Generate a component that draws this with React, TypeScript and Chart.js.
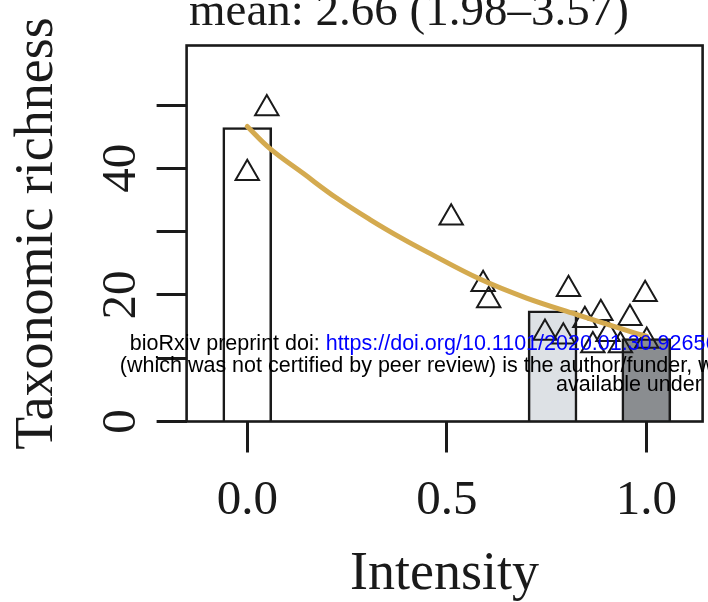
import React, { useEffect, useRef } from 'react';
import { Chart, registerables } from 'chart.js';

Chart.register(...registerables);

// ---- data ----
const titleText = 'mean: 2.66 (1.98–3.57)';
const xTitle = 'Intensity';
const yTitle = 'Taxonomic richness';

const barX = [0, 0.765, 1.0];
const barY = [46.45, 17.5, 13.1];
const barColors = ['#ffffff', '#dde1e5', '#8a8d90'];

const pointX = [0.049, 0.0, 0.511, 0.591, 0.605, 0.805, 0.997, 0.886, 0.846, 0.959, 0.746, 0.792, 0.904, 1.001, 0.866, 0.935];
const pointY = [49.45, 39.2, 32.2, 21.7, 19.1, 20.9, 20.1, 17.1, 16.0, 16.3, 14.0, 13.4, 13.8, 12.7, 12.0, 12.0];

const curveX = [0.0, 0.057, 0.14, 0.224, 0.3075, 0.391, 0.45, 0.583, 0.7, 0.826, 0.976, 1.0];
const curveY = [46.6, 43.1, 39.2, 35.3, 31.9, 28.8, 26.8, 22.5, 19.5, 16.9, 13.9, 13.5];

const xTickValues = [0, 0.5, 1];
const xTickLabels = ['0.0', '0.5', '1.0'];
const yTickValues = [0, 10, 20, 30, 40, 50];
const yLabelValues = [0, 20, 40];
const yLabelTexts = ['0', '20', '40'];

const wmLine1a = 'bioRxiv preprint doi: ';
const wmLine1b = 'https://doi.org/10.1101/2020.01.30.926560';
const wmLine1c = '; this version posted February 1, 2020. The copyright holder for this preprint';
const wmLine2 = '(which was not certified by peer review) is the author/funder, who has granted bioRxiv a license to display the preprint in perpetuity. It is made';
const wmLine3 = 'available under aCC-BY-NC-ND 4.0 International license.';

const SERIF = '"Liberation Serif", "Times New Roman", serif';
const SANS = '"Liberation Sans", Arial, sans-serif';
const INK = '#1a1a1a';

const overlayPlugin = {
  id: 'overlay',
  afterDraw(chart: any) {
    const { ctx, chartArea: a, scales } = chart;
    ctx.save();
    // plot box
    ctx.strokeStyle = INK;
    ctx.lineWidth = 2.6;
    ctx.strokeRect(a.left, a.top, a.right - a.left, a.bottom - a.top);

    // y tick labels (rotated, R style)
    ctx.fillStyle = INK;
    ctx.font = `49px ${SERIF}`;
    ctx.textAlign = 'center';
    ctx.textBaseline = 'alphabetic';
    yLabelValues.forEach((v, i) => {
      const py = scales.y.getPixelForValue(v);
      ctx.save();
      ctx.translate(a.left - 51.6, py);
      ctx.rotate(-Math.PI / 2);
      ctx.fillText(yLabelTexts[i], 0, 0);
      ctx.restore();
    });

    // title
    ctx.font = `47px ${SERIF}`;
    ctx.textAlign = 'left';
    ctx.fillText(titleText, a.left + 2.4, 25);

    // watermark overlay
    ctx.font = `21.5px ${SANS}`;
    ctx.textAlign = 'left';
    ctx.fillStyle = '#000';
    let x = 129.7;
    ctx.fillText(wmLine1a, x, 350);
    x += ctx.measureText(wmLine1a).width;
    ctx.fillStyle = '#0000ff';
    ctx.fillText(wmLine1b, x, 350);
    x += ctx.measureText(wmLine1b).width;
    ctx.fillStyle = '#000';
    ctx.fillText(wmLine1c, x, 350);
    ctx.fillText(wmLine2, 119.8, 371.7);
    ctx.fillText(wmLine3, 556, 390.5);
    ctx.restore();
  },
};

export default function App() {
  const canvasRef = useRef<HTMLCanvasElement | null>(null);

  useEffect(() => {
    const canvas = canvasRef.current;
    if (!canvas) return;
    const gridCommon = {
      drawOnChartArea: false,
      drawTicks: true,
      tickLength: 30,
      tickWidth: 3,
      tickColor: INK,
      color: INK,
      offset: false,
    };
    const chart = new Chart(canvas, {
      type: 'bar',
      data: {
        datasets: [
          {
            type: 'line',
            label: 'fit',
            data: curveX.map((x, i) => ({ x, y: curveY[i] })),
            borderColor: '#d4aa4f',
            borderWidth: 5,
            borderCapStyle: 'round',
            pointRadius: 0,
            fill: false,
            tension: 0.4,
            order: 0,
          } as any,
          {
            type: 'scatter',
            label: 'observations',
            data: pointX.map((x, i) => ({ x, y: pointY[i] })),
            showLine: false,
            pointStyle: 'triangle',
            pointRadius: 13.5,
            pointBorderWidth: 2,
            pointBorderColor: INK,
            pointBackgroundColor: 'rgba(0,0,0,0)',
            order: 1,
          } as any,
          {
            type: 'bar',
            label: 'means',
            data: barX.map((x, i) => ({ x, y: barY[i] })),
            backgroundColor: barColors,
            borderColor: INK,
            borderWidth: 2.6,
            barThickness: 49,
            order: 2,
          } as any,
        ],
      },
      options: {
        animation: false,
        responsive: false,
        maintainAspectRatio: false,
        layout: { autoPadding: false, padding: { top: 45.5, right: 5.4, bottom: 0, left: 0 } },
        plugins: {
          legend: { display: false },
          tooltip: { enabled: false },
          title: { display: false },
        },
        scales: {
          x: {
            type: 'linear',
            min: -0.152,
            max: 1.141,
            offset: false,
            afterFit(s: any) {
              s.height = 180.5;
            },
            afterBuildTicks(s: any) {
              s.ticks = xTickValues.map((v) => ({ value: v }));
            },
            ticks: {
              autoSkip: false,
              maxRotation: 0,
              minRotation: 0,
              padding: 24,
              color: INK,
              font: { family: SERIF, size: 49, lineHeight: 1 },
              callback: (v: any) => {
                const i = xTickValues.indexOf(Number(v));
                return i >= 0 ? xTickLabels[i] : '';
              },
            },
            grid: { ...gridCommon, tickLength: 31 },
            border: { display: false },
            title: {
              display: true,
              text: xTitle,
              color: INK,
              font: { family: SERIF, size: 54, lineHeight: 1 },
              padding: { top: 0, bottom: 0.5 },
            },
          },
          y: {
            type: 'linear',
            min: 0,
            max: 59.4,
            afterFit(s: any) {
              s.width = 186.6;
            },
            afterBuildTicks(s: any) {
              s.ticks = yTickValues.map((v) => ({ value: v }));
            },
            ticks: { display: false },
            grid: gridCommon,
            border: { display: false },
            title: {
              display: true,
              text: yTitle,
              color: INK,
              font: { family: SERIF, size: 54, lineHeight: 1 },
              padding: { top: 11, bottom: 0 },
            },
          },
        },
      } as any,
      plugins: [overlayPlugin],
    });
    return () => chart.destroy();
  }, []);

  return (
    <div style={{ position: 'fixed', left: 0, top: 0, width: 708, height: 602, background: '#fff' }}>
      <canvas ref={canvasRef} width={708} height={602} style={{ display: 'block', width: 708, height: 602 }} />
    </div>
  );
}
